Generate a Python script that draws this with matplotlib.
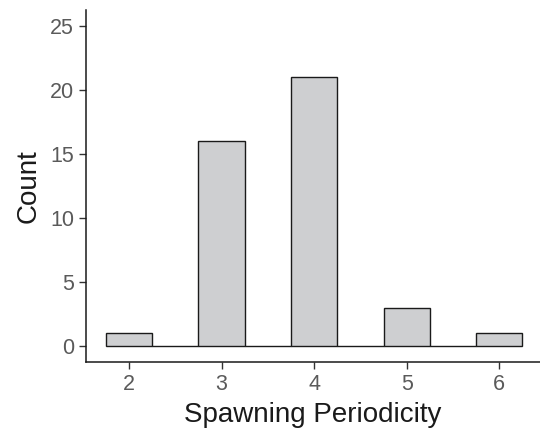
import numpy as np
import matplotlib.pyplot as plt

plt.rcParams['font.family'] = ['Liberation Sans', 'DejaVu Sans']

# Histogram of spawning periodicity (bin width 0.5)
bin_left = [1.75, 2.25, 2.75, 3.25, 3.75, 4.25, 4.75, 5.25, 5.75]
counts = [1, 0, 16, 0, 21, 0, 3, 0, 1]
xticks = [2, 3, 4, 5, 6]
yticks = [0, 5, 10, 15, 20, 25]

fig = plt.figure(figsize=(5.4, 4.34), dpi=100)
ax = fig.add_axes([0.159, 0.166, 0.841, 0.811])

ax.bar(bin_left, counts, width=0.5, align="edge", color="#cecfd1",
       edgecolor="#1a1a1a", linewidth=1.0)

ax.set_xlim(1.535, 6.44)
ax.set_ylim(-1.25, 26.25)
ax.set_xticks(xticks)
ax.set_yticks(yticks)
ax.tick_params(labelsize=15.5, labelcolor="#5a5a5a", color="#333333",
               length=5, width=1)

for side in ["top", "right"]:
    ax.spines[side].set_visible(False)
for side in ["left", "bottom"]:
    ax.spines[side].set_color("#1a1a1a")
    ax.spines[side].set_linewidth(1.1)

ax.set_xlabel("Spawning Periodicity", fontsize=20, color="#1a1a1a", labelpad=5)
ax.set_ylabel("Count", fontsize=20, color="#1a1a1a", labelpad=6)

plt.savefig("out.png", dpi=100)
